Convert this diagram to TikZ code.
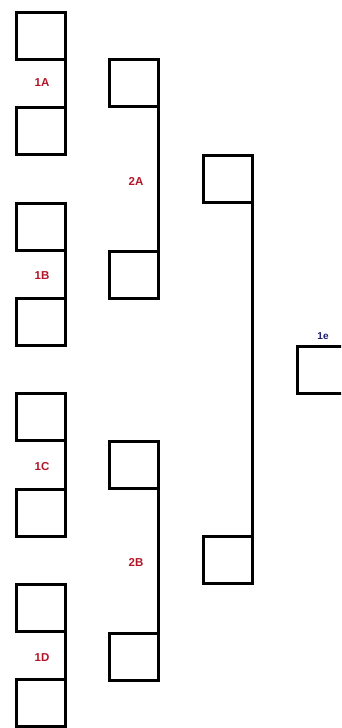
\documentclass[tikz,border=0pt]{standalone}
\usepackage{fontspec}
\setmainfont{Liberation Sans}
\definecolor{lblred}{RGB}{178,22,40}
\definecolor{lblblue}{RGB}{28,28,110}
\begin{document}
\begin{tikzpicture}[x=1pt,y=-1pt,
  boxnode/.style={draw=black,line width=3pt,minimum width=49pt,minimum height=47pt,inner sep=0pt,outer sep=0pt,shape=rectangle},
  link/.style={draw=black,line width=3pt},
  redlbl/.style={text=lblred,font=\fontsize{11.5}{11.5}\selectfont\bfseries,inner sep=0pt},
  bluelbl/.style={text=lblblue,font=\fontsize{10}{10}\selectfont\bfseries,inner sep=0pt}]
\useasboundingbox (0,0) rectangle (341,728);
\fill[white] (0,0) rectangle (341,728);
\clip (0,0) rectangle (341,728);
% column 1
\node[boxnode] (a1) at (40.5,36) {};
\node[boxnode] (a2) at (40.5,131) {};
\node[boxnode] (b1) at (40.5,226.5) {};
\node[boxnode] (b2) at (40.5,321.5) {};
\node[boxnode] (c1) at (40.5,416.5) {};
\node[boxnode] (c2) at (40.5,512.5) {};
\node[boxnode] (d1) at (40.5,608) {};
\node[boxnode] (d2) at (40.5,703) {};
% column 2
\node[boxnode] (e1) at (134,83) {};
\node[boxnode] (e2) at (134,274.5) {};
\node[boxnode] (f1) at (134,464.5) {};
\node[boxnode] (f2) at (134,657) {};
% column 3
\node[boxnode] (g1) at (228,178.5) {};
\node[boxnode] (g2) at (228,560) {};
% final
\node[boxnode] (h) at (322,370) {};
% connectors
\draw[link] (a1.south east) -- (a2.north east);
\draw[link] (b1.south east) -- (b2.north east);
\draw[link] (c1.south east) -- (c2.north east);
\draw[link] (d1.south east) -- (d2.north east);
\draw[link] (e1.south east) -- (e2.north east);
\draw[link] (f1.south east) -- (f2.north east);
\draw[link] (g1.south east) -- (g2.north east);
% labels
\node[redlbl] (l1a) at (42,83) {1A};
\node[redlbl] (l1b) at (42,276) {1B};
\node[redlbl] (l1c) at (42,467) {1C};
\node[redlbl] (l1d) at (42,658) {1D};
\node[redlbl] (l2a) at (136,181) {2A};
\node[redlbl] (l2b) at (136,562) {2B};
\node[bluelbl] (l1e) at (323,336) {1e};
\end{tikzpicture}
\end{document}
